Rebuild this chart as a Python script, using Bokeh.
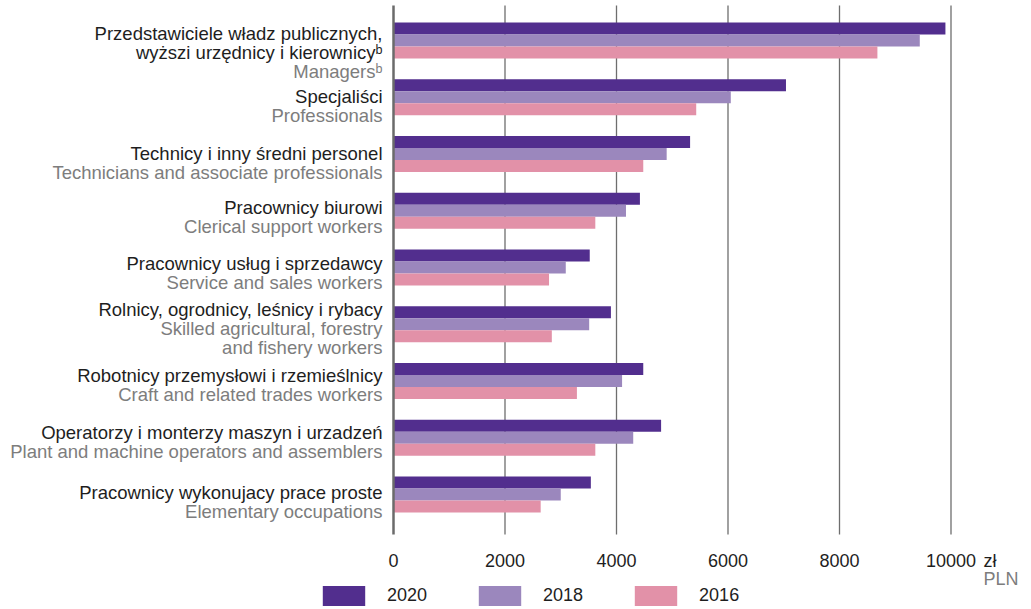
from bokeh.plotting import figure
from bokeh.models import Range1d, ColumnDataSource, Legend, LegendItem
from bokeh.core.properties import value
from bokeh.embed import file_html
from bokeh.resources import INLINE

# ---------------- data ----------------
categories_pl = [
    ["Przedstawiciele władz publicznych,", "wyższi urzędnicy i kierownicyᵇ"],
    ["Specjaliści"],
    ["Technicy i inny średni personel"],
    ["Pracownicy biurowi"],
    ["Pracownicy usług i sprzedawcy"],
    ["Rolnicy, ogrodnicy, leśnicy i rybacy"],
    ["Robotnicy przemysłowi i rzemieślnicy"],
    ["Operatorzy i monterzy maszyn i urzadzeń"],
    ["Pracownicy wykonujacy prace proste"],
]
categories_en = [
    ["Managersᵇ"],
    ["Professionals"],
    ["Technicians and associate professionals"],
    ["Clerical support workers"],
    ["Service and sales workers"],
    ["Skilled agricultural, forestry", "and fishery workers"],
    ["Craft and related trades workers"],
    ["Plant and machine operators and assemblers"],
    ["Elementary occupations"],
]
years = ["2020", "2018", "2016"]
values_2020 = [9900, 7040, 5320, 4420, 3520, 3900, 4480, 4800, 3540]
values_2018 = [9440, 6050, 4900, 4170, 3090, 3510, 4100, 4300, 3000]
values_2016 = [8680, 5430, 4480, 3620, 2790, 2840, 3290, 3620, 2640]
x_ticks = [0, 2000, 4000, 6000, 8000, 10000]
unit_pl = "zł"
unit_en = "PLN"

# ---------------- layout / style ----------------
W, H = 1031, 609
colors = ["#522e8e", "#9b87bd", "#e291a8"]
FONT = "Liberation Sans"
DARK = "#1e1e1e"
GREY = "#7d7d7d"
PX_PER_CAT = 56.75      # pixels between category centres
PX_PER_1000 = 55.75     # pixels per 1000 PLN
X0_PX = 393             # pixel of value 0
Y0_PX = 40              # pixel of first category centre


def ydata(px):
    return (px - Y0_PX) / PX_PER_CAT


def xdata(px):
    return (px - X0_PX) / PX_PER_1000 * 1000


bar_h = 12.0 / PX_PER_CAT
first_baseline_px = [-6.7, -0.5, -0.7, -3.4, -3.7, -14.7, -6.0, -5.3, -2.3]
line_gap_px = 19.0

n = len(values_2020)
idx = list(range(n))

p = figure(
    width=W, height=H,
    x_range=Range1d(xdata(0), xdata(W)),
    y_range=Range1d(ydata(H), ydata(0)),
    x_axis_location=None, y_axis_location=None,
    output_backend="svg", toolbar_location=None,
    min_border=0, min_border_left=0, min_border_right=0,
    min_border_top=0, min_border_bottom=0,
)
p.outline_line_color = None
p.background_fill_color = "white"
p.border_fill_color = "white"
p.grid.visible = False

# grid lines (at the axis ticks) and value axis line
grid_top, grid_bottom = ydata(5), ydata(534)
p.segment(x0=x_ticks[1:], x1=x_ticks[1:], y0=grid_top, y1=grid_bottom,
          line_color="#6e6e6e", line_width=1.3)

# bars
series = [values_2020, values_2018, values_2016]
offsets = [-bar_h, 0.0, bar_h]
renderers = []
for vals, off, col in zip(series, offsets, colors):
    src = ColumnDataSource(dict(y=[i + off for i in idx], v=vals))
    r = p.hbar(y="y", left=0, right="v", height=bar_h, source=src,
               fill_color=col, line_color=None)
    renderers.append(r)

p.segment(x0=[x_ticks[0]], x1=[x_ticks[0]], y0=grid_top, y1=grid_bottom,
          line_color="#6b6b6b", line_width=2.5)

# tick labels
p.text(x=x_ticks, y=ydata(560), text=[str(t) for t in x_ticks],
       text_align="center", text_baseline="alphabetic",
       text_font=value(FONT), text_font_size=value("18px"), text_color=DARK)

# unit labels
p.text(x=[xdata(983)], y=[ydata(560)], text=[unit_pl], text_align="left",
       text_baseline="alphabetic", text_font=value(FONT),
       text_font_size=value("18px"), text_color=DARK)
p.text(x=[xdata(983)], y=[ydata(578)], text=[unit_en], text_align="left",
       text_baseline="alphabetic", text_font=value(FONT),
       text_font_size=value("18px"), text_color=GREY)

# category labels
pl_rows = dict(x=[], y=[], text=[])
en_rows = dict(x=[], y=[], text=[])
for i in idx:
    k = 0
    for line in categories_pl[i]:
        pl_rows["x"].append(0)
        pl_rows["y"].append(i + (first_baseline_px[i] + k * line_gap_px) / PX_PER_CAT)
        pl_rows["text"].append(line)
        k += 1
    for line in categories_en[i]:
        en_rows["x"].append(0)
        en_rows["y"].append(i + (first_baseline_px[i] + k * line_gap_px) / PX_PER_CAT)
        en_rows["text"].append(line)
        k += 1

for rows, col in ((pl_rows, DARK), (en_rows, GREY)):
    p.text(x="x", y="y", text="text", source=ColumnDataSource(rows),
           x_offset=-11, text_align="right", text_baseline="alphabetic",
           text_font=value(FONT), text_font_size=value("18.5px"),
           text_color=col)

# legend
legend = Legend(
    items=[LegendItem(label=y, renderers=[r]) for y, r in zip(years, renderers)],
    location=(317, 1), orientation="horizontal",
    glyph_width=53, glyph_height=25, label_standoff=17, spacing=46,
    padding=0, margin=0, border_line_color=None, background_fill_alpha=0,
    label_text_font=FONT, label_text_font_size="18px", label_text_color=DARK,
)
p.add_layout(legend)

open("out.html", "w").write(file_html(p, INLINE))
